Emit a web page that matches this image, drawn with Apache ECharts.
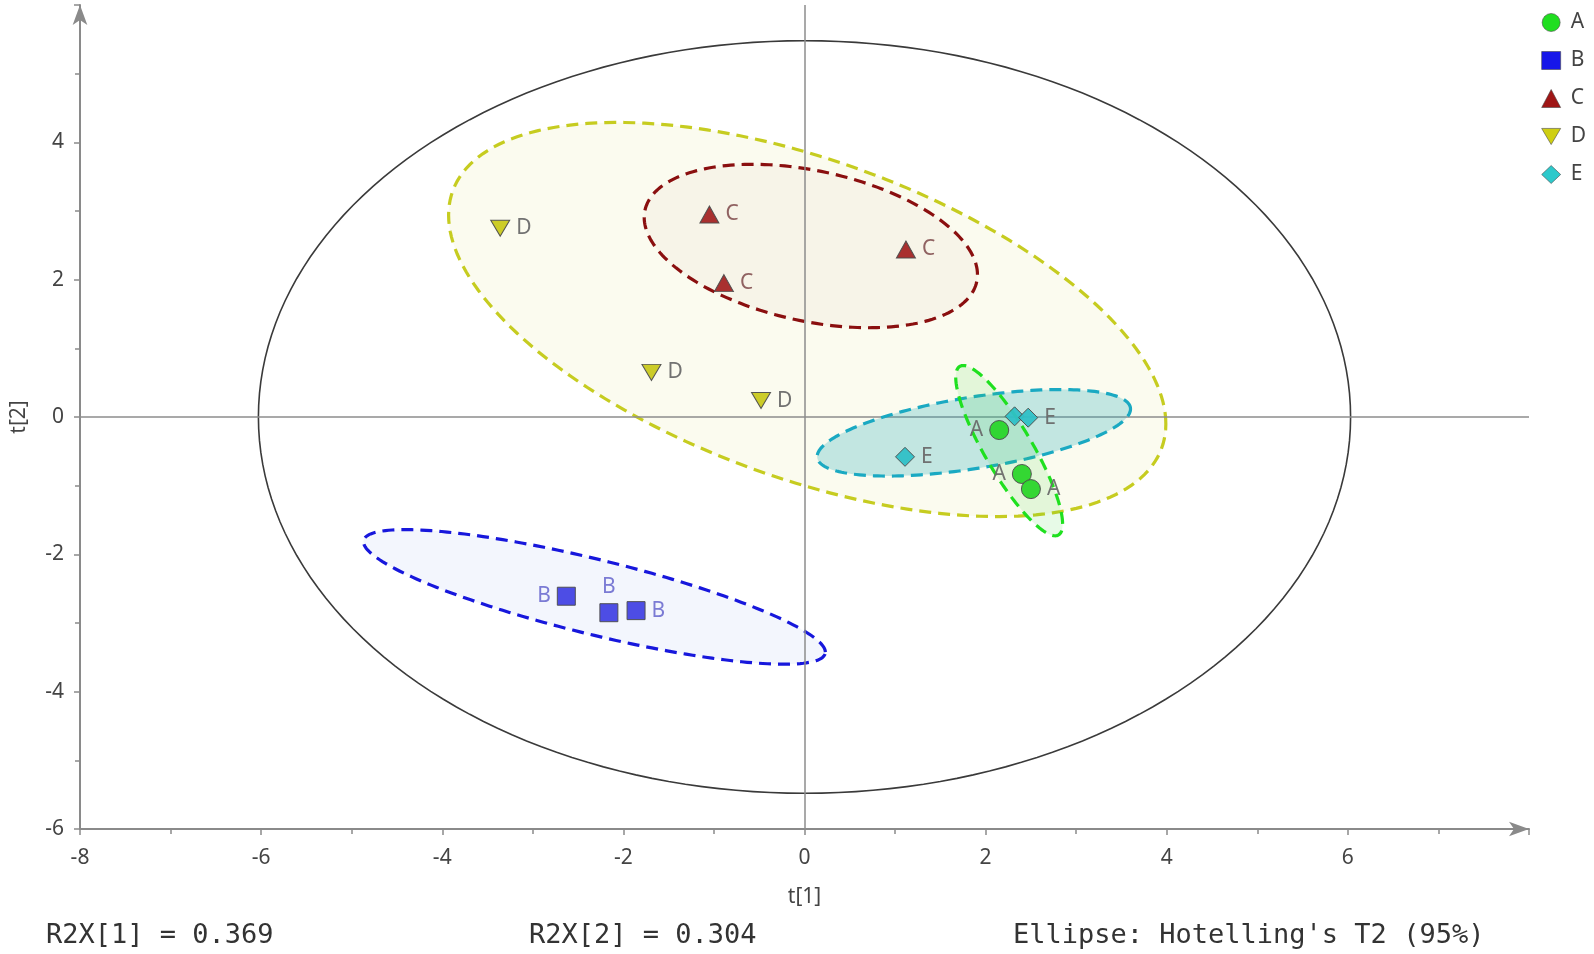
<!DOCTYPE html>
<html>
<head>
<meta charset="utf-8">
<script src="https://cdn.jsdelivr.net/npm/echarts@6/dist/echarts.min.js"></script>
<style>
  html, body { margin: 0; padding: 0; background: #fff; }
  #scorePlot { width: 1594px; height: 954px; }
</style>
</head>
<body>
<div id="scorePlot"></div>
<script>
// PCA score plot, t[1] vs t[2]
const groups = ['A', 'B', 'C', 'D', 'E'];

const scoresA = [[2.15, -0.19], [2.40, -0.83], [2.50, -1.05]];
const scoresB = [[-2.63, -2.61], [-2.16, -2.85], [-1.86, -2.82]];
const scoresC = [[-1.05, 2.95], [-0.89, 1.95], [1.12, 2.44]];
const scoresD = [[-3.36, 2.75], [-1.69, 0.65], [-0.48, 0.24]];
const scoresE = [[2.32, 0.01], [2.47, -0.01], [1.11, -0.58]];

// ellipses: [centre x, centre y, half width, half height, correlation]
const ellipseA = [2.26, -0.49, 0.59, 1.24, -0.86];
const ellipseB = [-2.32, -2.62, 2.55, 0.98, -0.82];
const ellipseC = [0.07, 2.49, 1.84, 1.19, -0.35];
const ellipseD = [0.03, 1.42, 3.96, 2.87, -0.53];
const ellipseE = [1.87, -0.23, 1.73, 0.63, 0.55];
const ellipseT2 = [0, 0, 6.03, 5.48, 0];

const xRange = [-8, 8];
const yRange = [-6, 6];
const tickStep = 2;

const r2xTexts = ['R2X[1] = 0.369', 'R2X[2] = 0.304'];
const ellipseNote = "Ellipse: Hotelling's T2 (95%)";

// styles
const scores = { A: scoresA, B: scoresB, C: scoresC, D: scoresD, E: scoresE };
const ellipses = { A: ellipseA, B: ellipseB, C: ellipseC, D: ellipseD, E: ellipseE };
const symbols = {
  A: 'circle',
  B: 'rect',
  C: 'triangle',
  D: 'path://M0,0 L20,0 L10,17 Z',
  E: 'diamond'
};
const symbolSizes = { A: 19, B: 18, C: [19, 17], D: [19, 16], E: 19 };
const pointColors = { A: '#2ad52a', B: '#4343e4', C: '#a42525', D: '#c9c91c', E: '#2fc0c6' };
const legendColors = { A: '#14dc14', B: '#0a0ae8', C: '#9a0a0a', D: '#cccc05', E: '#22c6c8' };
const labelColors = { A: '#6a6a6a', B: '#7474d2', C: '#8a5a5a', D: '#6a6a6a', E: '#6a6a6a' };
const labelSides = {
  A: ['left', 'left', 'right'],
  B: ['left', 'top', 'right'],
  C: ['right', 'right', 'right'],
  D: ['right', 'right', 'right'],
  E: [null, 'right', 'right']
};
const lineColors = { A: '#1fe01f', B: '#1717dc', C: '#8a0f0f', D: '#c6cc20', E: '#1aa9c2' };
const fillColors = {
  A: 'rgba(70,220,70,0.13)',
  B: 'rgba(120,150,235,0.09)',
  C: 'rgba(170,110,110,0.05)',
  D: 'rgba(215,220,110,0.11)',
  E: 'rgba(40,175,190,0.27)'
};

const FONT = 'Noto Sans';

function ellipseSeries(name, ell, stroke, fill, dashed, z) {
  return {
    name: name,
    type: 'custom',
    z: z,
    silent: true,
    data: [ell],
    renderItem: function (params, api) {
      const cx = api.value(0), cy = api.value(1);
      const sx = api.value(2), sy = api.value(3), r = api.value(4);
      const k = Math.sqrt(1 - r * r);
      const pts = [];
      for (let i = 0; i < 200; i++) {
        const t = (i / 200) * Math.PI * 2;
        const x = cx + sx * Math.cos(t);
        const y = cy + sy * (r * Math.cos(t) + k * Math.sin(t));
        pts.push(api.coord([x, y]));
      }
      return {
        type: 'polygon',
        shape: { points: pts },
        style: {
          fill: fill,
          stroke: stroke,
          lineWidth: dashed ? 3.2 : 1.6,
          lineDash: dashed ? [12, 7] : null
        }
      };
    }
  };
}

const series = [];
series.push(ellipseSeries('T2', ellipseT2, '#3a3a3a', 'none', false, 1));
['D', 'C', 'B', 'E', 'A'].forEach(function (g, i) {
  series.push(ellipseSeries(g + ' ellipse', ellipses[g], lineColors[g], fillColors[g], true, 2 + i));
});

// axis cross lines through the origin
series.push({
  name: 'origin',
  type: 'line',
  data: [],
  z: 1,
  markLine: {
    silent: true,
    symbol: 'none',
    label: { show: false },
    lineStyle: { color: '#8c8c8c', width: 1.5, type: 'solid' },
    data: [{ xAxis: 0 }, { yAxis: 0 }]
  }
});

groups.forEach(function (g) {
  series.push({
    name: g,
    type: 'scatter',
    z: 10,
    symbol: symbols[g],
    symbolSize: symbolSizes[g],
    itemStyle: { color: pointColors[g], borderColor: '#4d4d4d', borderWidth: 1, opacity: 0.95 },
    data: scores[g].map(function (p, i) {
      const side = labelSides[g][i];
      return {
        value: p,
        label: {
          show: side !== null,
          position: side || 'right',
          formatter: g,
          distance: 6,
          color: labelColors[g],
          fontFamily: FONT,
          fontSize: 21
        }
      };
    })
  });
});

const chart = echarts.init(document.getElementById('scorePlot'));
chart.setOption({
  animation: false,
  backgroundColor: '#fff',
  grid: { left: 80, right: 65, top: 5, bottom: 125, containLabel: false, outerBoundsMode: 'none' },
  legend: {
    data: groups.map(function (g) {
      return { name: g, icon: symbols[g], itemStyle: { color: legendColors[g], borderColor: '#444', borderWidth: 0.6 } };
    }),
    orient: 'vertical',
    right: 3,
    top: 7,
    itemWidth: 19,
    itemHeight: 18,
    itemGap: 17,
    textStyle: { fontFamily: FONT, fontSize: 21, color: '#444', padding: [0, 0, 0, 5] }
  },
  xAxis: {
    type: 'value',
    min: xRange[0],
    max: xRange[1],
    interval: tickStep,
    name: 't[1]',
    nameLocation: 'middle',
    nameGap: 58,
    nameTextStyle: { fontFamily: FONT, fontSize: 21, color: '#444' },
    axisLine: {
      onZero: false,
      lineStyle: { color: '#8a8a8a', width: 2 },
      symbol: ['none', 'arrow'],
      symbolSize: [11, 20]
    },
    axisTick: { show: true, length: 6, lineStyle: { color: '#8a8a8a', width: 1.5 } },
    minorTick: { show: true, splitNumber: 2, length: 5, lineStyle: { color: '#8a8a8a', width: 1.5 } },
    axisLabel: { showMaxLabel: false, margin: 19, fontFamily: FONT, fontSize: 21, color: '#444' },
    splitLine: { show: false }
  },
  yAxis: {
    type: 'value',
    min: yRange[0],
    max: yRange[1],
    interval: tickStep,
    name: 't[2]',
    nameLocation: 'middle',
    nameGap: 50,
    nameTextStyle: { fontFamily: FONT, fontSize: 21, color: '#444' },
    axisLine: {
      onZero: false,
      lineStyle: { color: '#8a8a8a', width: 2 },
      symbol: ['none', 'arrow'],
      symbolSize: [11, 20]
    },
    axisTick: { show: true, length: 6, lineStyle: { color: '#8a8a8a', width: 1.5 } },
    minorTick: { show: true, splitNumber: 2, length: 5, lineStyle: { color: '#8a8a8a', width: 1.5 } },
    axisLabel: { showMaxLabel: false, margin: 16, fontFamily: FONT, fontSize: 21, color: '#444' },
    splitLine: { show: false }
  },
  graphic: [
    {
      type: 'text', left: 46, top: 922,
      style: { text: r2xTexts[0], font: '27px "DejaVu Sans Mono"', fill: '#333' }
    },
    {
      type: 'text', left: 529, top: 922,
      style: { text: r2xTexts[1], font: '27px "DejaVu Sans Mono"', fill: '#333' }
    },
    {
      type: 'text', left: 1013, top: 922,
      style: { text: ellipseNote, font: '27px "DejaVu Sans Mono"', fill: '#333' }
    }
  ],
  series: series
});
</script>
</body>
</html>
